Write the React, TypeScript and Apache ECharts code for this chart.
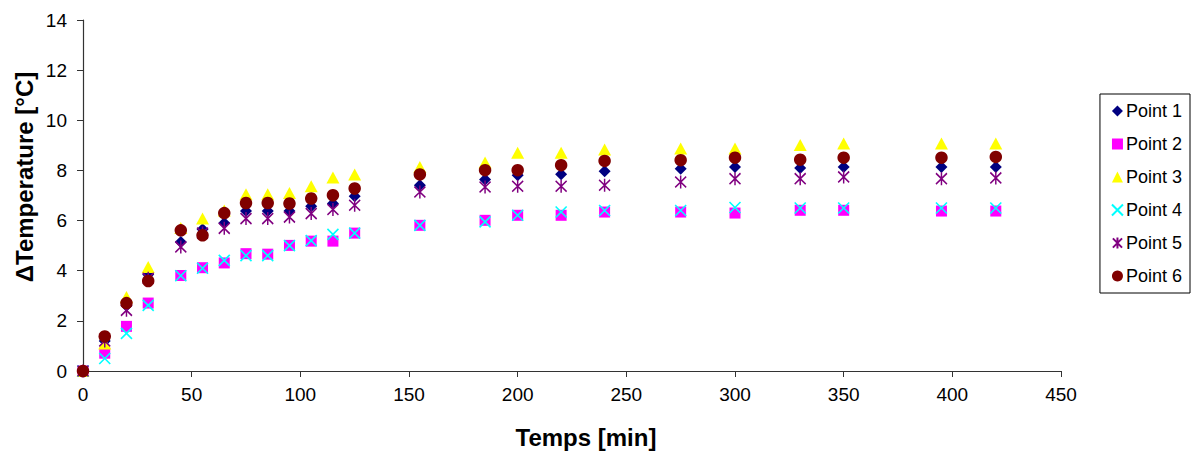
import React, { useEffect, useRef } from "react";
import * as echarts from "echarts";

const times = [0, 10, 20, 30, 45, 55, 65, 75, 85, 95, 105, 115, 125, 155, 185, 200, 220, 240, 275, 300, 330, 350, 395, 420];

const point1 = [0, 1.2, 2.6, 3.85, 5.15, 5.65, 5.9, 6.38, 6.38, 6.38, 6.57, 6.68, 6.97, 7.41, 7.64, 7.81, 7.85, 7.97, 8.07, 8.14, 8.1, 8.14, 8.14, 8.14];
const point2 = [0, 0.71, 1.78, 2.71, 3.81, 4.12, 4.31, 4.68, 4.66, 5.01, 5.18, 5.18, 5.5, 5.81, 6.01, 6.21, 6.21, 6.34, 6.34, 6.3, 6.41, 6.41, 6.38, 6.38];
const point3 = [0, 1.1, 2.95, 4.15, 5.7, 6.08, 6.4, 7.05, 7.05, 7.1, 7.37, 7.72, 7.84, 8.14, 8.32, 8.71, 8.71, 8.83, 8.87, 8.87, 9.01, 9.07, 9.07, 9.07];
const point4 = [0, 0.5, 1.5, 2.62, 3.8, 4.1, 4.41, 4.6, 4.6, 5.0, 5.2, 5.45, 5.5, 5.81, 5.95, 6.21, 6.34, 6.4, 6.4, 6.52, 6.5, 6.5, 6.5, 6.5];
const point5 = [0, 1.2, 2.42, 3.7, 4.95, 5.5, 5.69, 6.08, 6.08, 6.14, 6.28, 6.44, 6.61, 7.14, 7.34, 7.37, 7.37, 7.41, 7.54, 7.67, 7.67, 7.74, 7.67, 7.7];
const point6 = [0, 1.38, 2.71, 3.59, 5.61, 5.41, 6.3, 6.7, 6.7, 6.68, 6.88, 7.01, 7.28, 7.84, 8.01, 8.01, 8.21, 8.38, 8.41, 8.51, 8.43, 8.51, 8.51, 8.54];

const seriesNames = ["Point 1", "Point 2", "Point 3", "Point 4", "Point 5", "Point 6"];
const xTitle = "Temps [min]";
const yTitle = "ΔTemperature [°C]";

const FONT = "Liberation Sans, Arial, sans-serif";

const X_PATH = "path://M0,0 L10,10 M10,0 L0,10";
const STAR_PATH = "path://M0,1 L10,11 M10,1 L0,11 M5,0 L5,12";

export default function App() {
  const ref = useRef<HTMLDivElement>(null);

  useEffect(() => {
    document.body.style.margin = "0";
    const chart = echarts.init(ref.current!, null, { renderer: "svg" });
    const values = [point1, point2, point3, point4, point5, point6];
    const styles: any[] = [
      { symbol: "diamond", symbolSize: [12, 12], itemStyle: { color: "#000080", opacity: 1 } },
      { symbol: "rect", symbolSize: [11, 11], itemStyle: { color: "#FF00FF", opacity: 1 } },
      { symbol: "triangle", symbolSize: [13, 12], itemStyle: { color: "#FFFF00", opacity: 1 } },
      { symbol: X_PATH, symbolSize: [11, 11], itemStyle: { color: "rgba(0,0,0,0)", borderColor: "#00FFFF", borderWidth: 1.6, opacity: 1 } },
      { symbol: STAR_PATH, symbolSize: [11, 13], itemStyle: { color: "rgba(0,0,0,0)", borderColor: "#800080", borderWidth: 1.6, opacity: 1 } },
      { symbol: "circle", symbolSize: 12.5, itemStyle: { color: "#800000", opacity: 1 } },
    ];
    const series = seriesNames.map((name, i) => ({
      name,
      type: "scatter",
      data: times.map((t, j) => [t, values[i][j]]),
      ...styles[i],
    }));

    chart.setOption({
      animation: false,
      backgroundColor: "#ffffff",
      textStyle: { fontFamily: FONT },
      grid: { left: 83, right: 130, top: 20, bottom: 81 },
      xAxis: {
        type: "value",
        min: 0,
        max: 450,
        interval: 50,
        axisLine: { show: true, onZero: false, lineStyle: { color: "#333", width: 1.2 } },
        axisTick: { show: true, length: 6, lineStyle: { color: "#333" } },
        axisLabel: { color: "#000", fontSize: 19, fontFamily: FONT, margin: 14 },
        splitLine: { show: false },
      },
      yAxis: {
        type: "value",
        min: 0,
        max: 14,
        interval: 2,
        axisLine: { show: true, onZero: false, lineStyle: { color: "#333", width: 1.2 } },
        axisTick: { show: true, length: 6, lineStyle: { color: "#333" } },
        axisLabel: { color: "#000", fontSize: 19, fontFamily: FONT, margin: 16 },
        splitLine: { show: false },
      },
      legend: {
        orient: "vertical",
        right: 1,
        top: 94,
        padding: [8, 8, 8, 11],
        borderColor: "#000",
        borderWidth: 1,
        itemWidth: 11,
        itemHeight: 11,
        itemGap: 15,
        textStyle: { color: "#000", fontSize: 18, fontFamily: FONT, padding: [0, 0, 0, -2] },
        data: seriesNames,
      },
      graphic: [
        {
          type: "text",
          x: 24,
          y: 177,
          rotation: Math.PI / 2,
          style: {
            text: yTitle,
            fill: "#000",
            font: `bold 24px ${FONT}`,
            align: "center",
            verticalAlign: "middle",
          },
        },
        {
          type: "text",
          x: 586,
          y: 437,
          style: {
            text: xTitle,
            fill: "#000",
            font: `bold 24px ${FONT}`,
            align: "center",
            verticalAlign: "middle",
          },
        },
      ],
      series,
    });
    return () => chart.dispose();
  }, []);

  return <div ref={ref} style={{ width: 1191, height: 452 }} />;
}
